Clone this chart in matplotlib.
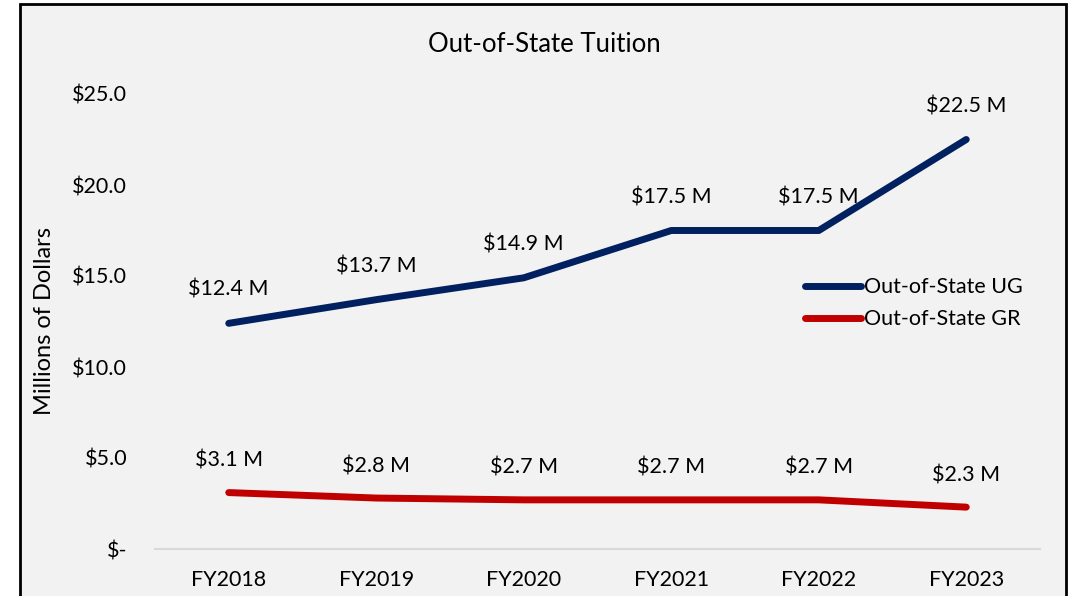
import numpy as np
import matplotlib.pyplot as plt
from matplotlib.patches import Rectangle

years = ['FY2018', 'FY2019', 'FY2020', 'FY2021', 'FY2022', 'FY2023']
ug_values = [12.4, 13.7, 14.9, 17.5, 17.5, 22.5]
gr_values = [3.1, 2.8, 2.7, 2.7, 2.7, 2.3]
y_ticks = [0, 5, 10, 15, 20, 25]
y_labels = ['$-', '$5.0', '$10.0', '$15.0', '$20.0', '$25.0']

plt.rcParams['font.family'] = ['Lato', 'DejaVu Sans']

fig = plt.figure(figsize=(10.73, 5.96), dpi=100)
fig.patch.set_facecolor('white')
# grey chart area with black frame
fig.patches.append(Rectangle((20 / 1073, -0.05), 1046 / 1073, 1.05 - 4 / 596,
                             transform=fig.transFigure, facecolor='#F2F2F2',
                             edgecolor='black', linewidth=2, zorder=-1))

ax = fig.add_axes([155 / 1073, 1 - 549 / 596, 885 / 1073, (549 - 94) / 596])
ax.set_facecolor('none')

x = np.arange(len(years))
ax.plot(x, ug_values, color='#002060', linewidth=5, solid_capstyle='round',
        label='Out-of-State UG')
ax.plot(x, gr_values, color='#C00000', linewidth=5, solid_capstyle='round',
        label='Out-of-State GR')

for xi, v in zip(x, ug_values):
    ax.annotate(f'${v:.1f} M', (xi, v), xytext=(0, 24), textcoords='offset points',
                ha='center', va='center', fontsize=15.5)
for xi, v in zip(x, gr_values):
    ax.annotate(f'${v:.1f} M', (xi, v), xytext=(0, 23), textcoords='offset points',
                ha='center', va='center', fontsize=15.5)

ax.set_xlim(-0.5, len(years) - 0.5)
ax.set_ylim(0, 25)
ax.set_xticks(x)
ax.set_xticklabels(years, fontsize=15.5)
ax.set_yticks(y_ticks)
ax.set_yticklabels(y_labels, fontsize=15.5)
ax.tick_params(axis='both', length=0)
ax.tick_params(axis='x', pad=15)
ax.tick_params(axis='y', pad=20)

for side in ['top', 'right', 'left']:
    ax.spines[side].set_visible(False)
ax.spines['bottom'].set_color('#D9D9D9')
ax.spines['bottom'].set_linewidth(1.5)

fig.text(45 / 1073, 1 - 321 / 596, 'Millions of Dollars', rotation=90,
         ha='center', va='center', fontsize=17)
fig.text(544 / 1073, 1 - 44 / 596, 'Out-of-State Tuition', ha='center',
         va='center', fontsize=18.5)

ax.legend(loc='upper left', bbox_to_anchor=(786 / 1073, 1 - 258 / 596),
          bbox_transform=fig.transFigure, frameon=False, fontsize=15.5,
          handlelength=2.6, handletextpad=0.1, labelspacing=0.55)

fig.savefig('out.png', dpi=100, facecolor=fig.get_facecolor())
